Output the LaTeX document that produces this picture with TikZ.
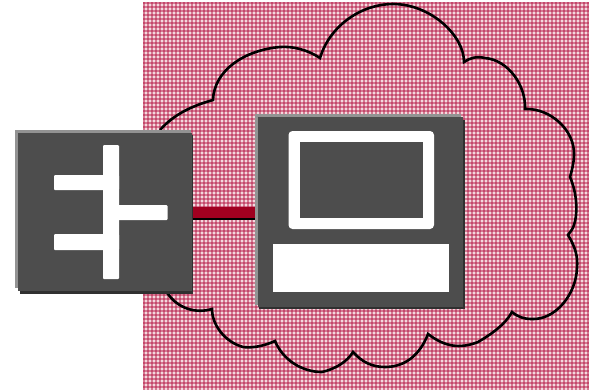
\documentclass[tikz,border=0pt]{standalone}
\definecolor{boxgrey}{HTML}{4D4D4D}
\definecolor{edgegrey}{HTML}{939393}
\definecolor{shadowgrey}{HTML}{303030}
\definecolor{linkred}{HTML}{A00020}
\definecolor{rosedark}{HTML}{C4486C}
\definecolor{roselight}{HTML}{D47A92}
\definecolor{rosedot}{HTML}{F4D8DE}
\tikzset{
  panel/.style={fill=boxgrey,draw=none,inner sep=0pt,outer sep=0pt},
  iconbar/.style={fill=white,draw=none},
  cloudline/.style={draw=black,line width=2.6bp,line join=miter},
}
\begin{document}
\begin{tikzpicture}[x=1bp,y=-1bp]
\useasboundingbox (0,0) rectangle (589,389);
\fill[white] (0,0) rectangle (589,389);
% hatched field
\begin{scope}
\clip (143,2) rectangle (589,389);
\fill[rosedark] (143,2) rectangle (589,389);
\foreach \i in {0,...,111} {\fill[roselight] ({143+4*\i+2},2) rectangle ({143+4*\i+4},389);}
\foreach \j in {0,...,96} {\fill[roselight] (143,{2+4*\j+2}) rectangle (589,{2+4*\j+4});}
\foreach \j in {0,...,96} {\draw[rosedot,line width=2bp,dash pattern=on 2bp off 2bp,dash phase=-2bp] (143,{2+4*\j+3}) -- (589,{2+4*\j+3});}
\end{scope}
% cloud
\draw[cloudline]
  (155,270) .. controls (158,280) and (162,287) .. (168,294)
  .. controls (178,308) and (195,314) .. (212,309)
  .. controls (212,325) and (225,342) .. (243,347)
  .. controls (250,348) and (262,347) .. (275,341)
  .. controls (283,360) and (302,372) .. (322,372)
  .. controls (335,369) and (347,362) .. (353,352)
  .. controls (362,362) and (372,367) .. (385,367)
  .. controls (405,367) and (420,355) .. (428,334)
  .. controls (445,347) and (460,349) .. (478,342)
  .. controls (490,335) and (505,325) .. (512,312)
  .. controls (518,317) and (524,319) .. (532,319)
  .. controls (555,320) and (576,295) .. (577,268)
  .. controls (578,258) and (576,248) .. (568,235)
  .. controls (570,232) and (573,229) .. (574,225)
  .. controls (578,213) and (577,193) .. (570,177)
  .. controls (572,170) and (574,162) .. (574,155)
  .. controls (575,130) and (550,108) .. (525,109)
  .. controls (526,85) and (508,60) .. (485,58)
  .. controls (476,56) and (470,58) .. (464,62)
  .. controls (464,35) and (430,4) .. (393,4)
  .. controls (362,4) and (330,25) .. (320,58)
  .. controls (308,50) and (293,46) .. (280,47)
  .. controls (245,50) and (214,70) .. (213,100)
  .. controls (195,105) and (175,113) .. (160,130);
% switch panel
\fill[shadowgrey] (20,135) rectangle (193,294);
\fill[edgegrey] (15,130) rectangle (190.5,288);
\node[panel,minimum width=174bp,minimum height=158bp] (switch) at (105,212) {};
% computer panel
\fill[shadowgrey] (259,120) rectangle (465,309);
\fill[edgegrey] (255,114) rectangle (461,305);
\node[panel,minimum width=205bp,minimum height=190bp] (pc) at (360.5,212) {};
% connector
\draw[black,line width=13bp,shorten <=1bp,shorten >=3bp] ([yshift=-1.5bp]switch.east) -- ([yshift=-1.5bp]pc.west);
\draw[linkred,line width=11bp,shorten <=1bp,shorten >=3bp] ([yshift=-0.5bp]switch.east) -- ([yshift=-0.5bp]pc.west);
% bus icon
\fill[iconbar,rounded corners=1bp] (103,145) rectangle (119,279);
\fill[iconbar,rounded corners=1bp] (54,175) rectangle (119,190);
\fill[iconbar,rounded corners=1bp] (103,205) rectangle (167.5,220);
\fill[iconbar,rounded corners=1bp] (54,234) rectangle (119,250);
% computer icon
\fill[iconbar,rounded corners=4bp] (288.5,131) rectangle (434,229);
\fill[boxgrey] (299.5,142) rectangle (423,218);
\fill[iconbar] (273,244) rectangle (449,292);
\end{tikzpicture}
\end{document}
